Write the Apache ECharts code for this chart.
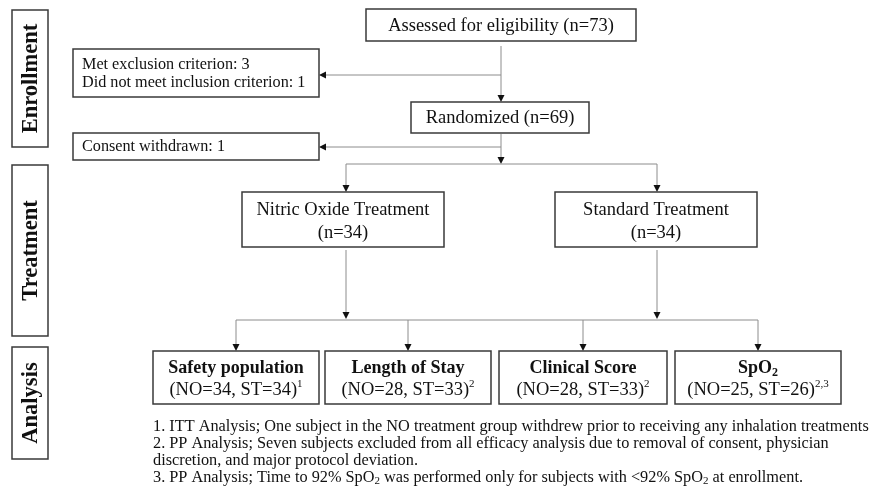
<!DOCTYPE html>
<html>
<head>
<meta charset="utf-8">
<script src="https://cdn.jsdelivr.net/npm/echarts@6/dist/echarts.min.js"></script>
<style>
  html, body { margin: 0; padding: 0; background: #fff; }
  #flow { width: 873px; height: 494px; }
</style>
</head>
<body>
<div id="flow"></div>
<script>
// texts / counts
const stageLabels = ['Enrollment', 'Treatment', 'Analysis']
const assessedN = 73
const randomizedN = 69
const exclusionLines = ['Met exclusion criterion: 3', 'Did not meet inclusion criterion: 1']
const withdrawnLines = ['Consent withdrawn: 1']
const armNames = ['Nitric Oxide Treatment', 'Standard Treatment']
const armN = [34, 34]
const analysisTitles = ['Safety population', 'Length of Stay', 'Clinical Score', 'SpO']
const analysisTitleSub = ['', '', '', '2']
const noCounts = [34, 28, 28, 25]
const stCounts = [34, 33, 33, 26]
const footRefs = ['1', '2', '2', '2,3']
const footnotes = [
  '1. ITT Analysis; One subject in the NO treatment group withdrew prior to receiving any inhalation treatments',
  '2. PP Analysis; Seven subjects excluded from all efficacy analysis due to removal of consent, physician',
  'discretion, and major protocol deviation.',
  '3. PP Analysis; Time to 92% SpO₂ was performed only for subjects with <92% SpO₂ at enrollment.'
]

const FONT = '"Liberation Serif", "Times New Roman", serif'
const BOX = '#3a3a3a'
const LINE = '#8c8c8c'

const rich = {
  b: { font: 'bold 18px ' + FONT, fill: '#111', lineHeight: 22 },
  r: { font: '18.5px ' + FONT, fill: '#111', lineHeight: 22 },
  s: { font: '16.2px ' + FONT, fill: '#111', lineHeight: 18 },
  f: { font: '16.3px ' + FONT, fill: '#111', lineHeight: 18 },
  sup: { font: '11px ' + FONT, fill: '#111', verticalAlign: 'top', lineHeight: 13 },
  bsub: { font: 'bold 12px ' + FONT, fill: '#111', verticalAlign: 'bottom', lineHeight: 12 },
  ssub: { font: '11px ' + FONT, fill: '#111', verticalAlign: 'bottom', lineHeight: 11 }
}

let els = []

function box(x, y, w, h, lw) {
  els.push({
    type: 'rect',
    shape: { x: x, y: y, width: w, height: h },
    style: { fill: '#fff', stroke: BOX, lineWidth: lw || 1.5 }
  })
}
function txt(x, y, text, align, extra) {
  els.push(Object.assign({
    type: 'text',
    x: x,
    y: y,
    style: { text: text, rich: rich, align: align || 'center', verticalAlign: 'middle' }
  }, extra || {}))
}
function seg(x1, y1, x2, y2) {
  els.push({
    type: 'line',
    shape: { x1: x1, y1: y1, x2: x2, y2: y2 },
    style: { stroke: LINE, lineWidth: 1 }
  })
}
function headDown(x, y) {
  els.push({
    type: 'polygon',
    shape: { points: [[x - 3.5, y - 7], [x + 3.5, y - 7], [x, y]] },
    style: { fill: '#111' }
  })
}
function headLeft(x, y) {
  els.push({
    type: 'polygon',
    shape: { points: [[x + 7, y - 3.5], [x + 7, y + 3.5], [x, y]] },
    style: { fill: '#111' }
  })
}
function arrowDown(x, y1, y2) { seg(x, y1, x, y2 - 5); headDown(x, y2) }
function arrowLeft(x1, x2, y) { seg(x1, y, x2 + 5, y); headLeft(x2, y) }

// stage labels on the left
const sideBoxes = [[12, 10, 36, 137], [12, 165, 36, 171], [12, 347, 36, 112]]
sideBoxes.forEach((b, i) => {
  box(b[0], b[1], b[2], b[3], 1.5)
  els.push({
    type: 'text',
    x: b[0] + b[2] / 2 + 1,
    y: b[1] + b[3] / 2,
    rotation: Math.PI / 2,
    style: { text: stageLabels[i], font: 'bold 22.5px ' + FONT, fill: '#111', align: 'center', verticalAlign: 'middle' }
  })
})

// connectors
arrowDown(501, 46, 102)
arrowLeft(501, 319, 75)
arrowDown(501, 134, 164)
arrowLeft(501, 319, 147)
seg(346, 164, 657, 164)
arrowDown(346, 164, 192)
arrowDown(657, 164, 192)
arrowDown(346, 250, 319)
arrowDown(657, 250, 319)
seg(236, 320, 758, 320)
const analysisX = [153, 325, 499, 675]
const analysisW = [166, 166, 168, 166]
analysisX.forEach((x, i) => arrowDown(x + analysisW[i] / 2, 320, 351))

// enrollment boxes
box(366, 9, 270, 32)
txt(501, 26, '{r|Assessed for eligibility (n=' + assessedN + ')}')
box(73, 49, 246, 48)
exclusionLines.forEach((l, i) => txt(82, 65 + i * 18, '{s|' + l + '}', 'left'))
box(411, 102, 178, 31)
txt(500, 118, '{r|Randomized (n=' + randomizedN + ')}')
box(73, 133, 246, 27)
withdrawnLines.forEach((l, i) => txt(82, 147 + i * 18, '{s|' + l + '}', 'left'))

// treatment arms
const armX = [242, 555]
armX.forEach((x, i) => {
  box(x, 192, 202, 55)
  txt(x + 101, 210, '{r|' + armNames[i] + '}')
  txt(x + 101, 233, '{r|(n=' + armN[i] + ')}')
})

// analysis sets
analysisX.forEach((x, i) => {
  box(x, 351, analysisW[i], 53)
  const cx = x + analysisW[i] / 2
  let t = '{b|' + analysisTitles[i] + '}'
  if (analysisTitleSub[i]) t += '{bsub|' + analysisTitleSub[i] + '}'
  txt(cx, 368, t)
  txt(cx, 390, '{r|(NO=' + noCounts[i] + ', ST=' + stCounts[i] + ')}{sup|' + footRefs[i] + '}')
})

// footnotes
footnotes.forEach((l, i) => {
  const t = l.split('₂').map(p => '{f|' + p + '}').join('{ssub|2}')
  txt(153, 427 + i * 17, t, 'left')
})

let myChart = echarts.init(document.getElementById('flow'))
myChart.setOption({
  backgroundColor: '#fff',
  animation: false,
  graphic: { elements: els }
})
</script>
</body>
</html>
